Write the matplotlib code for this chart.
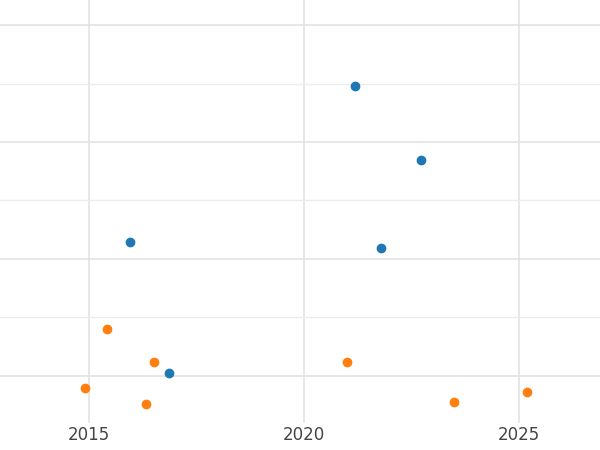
import matplotlib
matplotlib.use("Agg")
import matplotlib.pyplot as plt

blue_x = [2021.19, 2022.72, 2015.95, 2021.79, 2016.86]
blue_y = [4.96, 3.70, 2.28, 2.19, 0.05]
orange_x = [2015.42, 2016.51, 2014.91, 2016.33, 2021.00, 2023.49, 2025.19]
orange_y = [0.80, 0.23, -0.21, -0.49, 0.23, -0.45, -0.28]
x_ticks = [2015, 2020, 2025]

fig = plt.figure(figsize=(6, 4.5), dpi=100)
ax = fig.add_axes([0, 0.06, 1, 0.94])
ax.set_xlim(2012.93, 2026.88)
ax.set_ylim(-0.81, 6.43)
ax.set_yticks([0, 2, 4, 6])
ax.set_yticks([1, 3, 5], minor=True)
ax.set_yticklabels([])
ax.set_xticks(x_ticks)
ax.grid(True, which="major", color="#e3e3e3", lw=1.2)
ax.grid(True, which="minor", axis="y", color="#ececec", lw=1.0)
ax.set_axisbelow(True)
for s in ax.spines.values():
    s.set_visible(False)
ax.tick_params(which="both", length=0, labelsize=12, labelcolor="#444444", pad=2)

ax.scatter(blue_x, blue_y, s=36, color="#1f77b4", zorder=3)
ax.scatter(orange_x, orange_y, s=36, color="#ff7f0e", zorder=3)

fig.savefig("out.png")
